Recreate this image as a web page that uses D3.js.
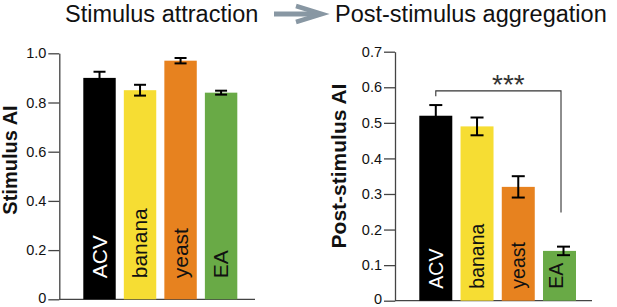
<!DOCTYPE html>
<html>
<head>
<meta charset="utf-8">
<script src="https://cdn.jsdelivr.net/npm/d3@7"></script>
<style>
  body { margin: 0; background: #fff; }
  svg { display: block; font-family: "Liberation Sans", Arial, Helvetica, sans-serif; }
</style>
</head>
<body>
<div id="chart"></div>
<script>
// data
const categories = ["ACV", "banana", "yeast", "EA"];
const stimulusAI = [0.90, 0.85, 0.97, 0.84];
const stimulusErr = [0.025, 0.022, 0.011, 0.008];
const postAI = [0.52, 0.49, 0.32, 0.14];
const postErr = [0.03, 0.025, 0.03, 0.012];
const leftTicks = [0, 0.2, 0.4, 0.6, 0.8, 1.0];
const rightTicks = [0, 0.1, 0.2, 0.3, 0.4, 0.5, 0.6, 0.7];
const barColors = ["#000000", "#f6dd33", "#e7821f", "#69aa46"];
const labelColors = ["#ffffff", "#111111", "#111111", "#111111"];

const W = 617, H = 307;
const svg = d3.select("#chart").append("svg")
  .attr("width", W).attr("height", H);

// ---------- header with arrow ----------
svg.append("text")
  .attr("x", 65).attr("y", 22)
  .attr("font-size", "23.5px")
  .attr("fill", "#111")
  .text("Stimulus attraction");
svg.append("text")
  .attr("x", 335).attr("y", 22)
  .attr("font-size", "23.5px")
  .attr("fill", "#111")
  .text("Post-stimulus aggregation");

const arrowCol = "#8897a3";
svg.append("line")
  .attr("x1", 274).attr("x2", 318)
  .attr("y1", 14).attr("y2", 14)
  .attr("stroke", arrowCol).attr("stroke-width", 5);
svg.append("path")
  .attr("d", "M296,6 L322,14 L296,22")
  .attr("fill", "none")
  .attr("stroke", arrowCol).attr("stroke-width", 4.5)
  .attr("stroke-linejoin", "miter");

// ---------- one panel ----------
function panel(cfg) {
  const y = d3.scaleLinear().domain(cfg.domain).range([cfg.y0, cfg.y1]);
  const x = d3.scaleBand().domain(categories)
    .range([cfg.bx0, cfg.bx1])
    .paddingInner(0.2).paddingOuter(0);

  const g = svg.append("g");

  // y axis
  const yAxis = d3.axisLeft(y)
    .tickValues(cfg.ticks)
    .tickSize(11).tickSizeOuter(0).tickPadding(2)
    .tickFormat(d => d === 0 ? "0" : d3.format(".1f")(d));
  const ax = g.append("g")
    .attr("transform", `translate(${cfg.ax},0)`)
    .call(yAxis);
  ax.selectAll("text")
    .attr("font-size", "14.5px")
    .attr("fill", "#111")
    .attr("font-family", "Liberation Sans, Arial, sans-serif");
  ax.selectAll(".tick text").filter(d => d === 0).attr("dy", "0.2em");
  ax.selectAll("line, path").attr("stroke", "#444").attr("stroke-width", 1.3);

  // baseline
  g.append("line")
    .attr("x1", cfg.ax).attr("x2", cfg.baseEnd)
    .attr("y1", y(0)).attr("y2", y(0))
    .attr("stroke", "#444").attr("stroke-width", 1.3);

  // bars
  g.selectAll(".bar")
    .data(cfg.values)
    .enter().append("rect")
    .attr("class", "bar")
    .attr("x", (d, i) => x(categories[i]))
    .attr("width", x.bandwidth())
    .attr("y", d => y(d))
    .attr("height", d => y(0) - y(d))
    .attr("fill", (d, i) => barColors[i]);

  // error bars
  const eb = g.selectAll(".err")
    .data(cfg.values)
    .enter().append("g")
    .attr("class", "err")
    .attr("transform", (d, i) => `translate(${x(categories[i]) + x.bandwidth() / 2 + (cfg.errShift[i] || 0)},0)`);
  eb.append("line")
    .attr("x1", 0).attr("x2", 0)
    .attr("y1", (d, i) => y(d - cfg.err[i]))
    .attr("y2", (d, i) => y(d + cfg.err[i]))
    .attr("stroke", "#000").attr("stroke-width", 2);
  [-1, 1].forEach(s => {
    eb.append("line")
      .attr("x1", -cfg.cap / 2).attr("x2", cfg.cap / 2)
      .attr("y1", (d, i) => y(d + s * cfg.err[i]))
      .attr("y2", (d, i) => y(d + s * cfg.err[i]))
      .attr("stroke", "#000").attr("stroke-width", 2);
  });

  // rotated labels inside bars
  g.selectAll(".lab")
    .data(categories)
    .enter().append("text")
    .attr("class", "lab")
    .attr("transform", (d, i) =>
      `translate(${x(d) + x.bandwidth() / 2 + (cfg.labShift[i] || 0)},${y(0) - cfg.labBottom}) rotate(-90)`)
    .attr("dy", "0.35em")
    .attr("font-size", cfg.labSize)
    .attr("fill", (d, i) => labelColors[i])
    .text(d => d);

  // y title
  g.append("text")
    .attr("transform", `translate(${cfg.titleX},${cfg.titleY}) rotate(-90)`)
    .attr("text-anchor", "middle")
    .attr("font-weight", "bold")
    .attr("font-size", cfg.titleSize)
    .attr("fill", "#111")
    .text(cfg.title);

  return {x, y, g};
}

panel({
  domain: [0, 1], y0: 299.3, y1: 53.3, ticks: leftTicks, ax: 59.3, baseEnd: 255,
  bx0: 83.3, bx1: 237.3, values: stimulusAI, err: stimulusErr, cap: 12, errShift: [],
  labShift: [], labBottom: 21, labSize: "21px",
  title: "Stimulus AI", titleX: 17, titleY: 160, titleSize: "20px"
});

const right = panel({
  domain: [0, 0.7], y0: 300.7, y1: 51.7, ticks: rightTicks, ax: 395, baseEnd: 592,
  bx0: 419.3, bx1: 576, values: postAI, err: postErr, cap: 13, errShift: [0, 0, 0, 4],
  labShift: [0, 0, 0, -3], labBottom: 12, labSize: "19.5px",
  title: "Post-stimulus AI", titleX: 345.5, titleY: 166, titleSize: "21px"
});

// significance bracket ACV vs EA
const bx1 = right.x("ACV") + right.x.bandwidth() / 2;
const bx2 = right.x("EA") + right.x.bandwidth() / 2 + 1.5;
const by = right.y(0.59);
right.g.append("path")
  .attr("d", `M${bx1},${right.y(0.575)} V${by} H${bx2} V${right.y(0.248)}`)
  .attr("fill", "none")
  .attr("stroke", "#333").attr("stroke-width", 1.1);
right.g.append("text")
  .attr("x", (bx1 + bx2) / 2 + 10)
  .attr("y", by + 3)
  .attr("text-anchor", "middle")
  .attr("font-size", "28px")
  .attr("fill", "#333")
  .text("***");
</script>
</body>
</html>
